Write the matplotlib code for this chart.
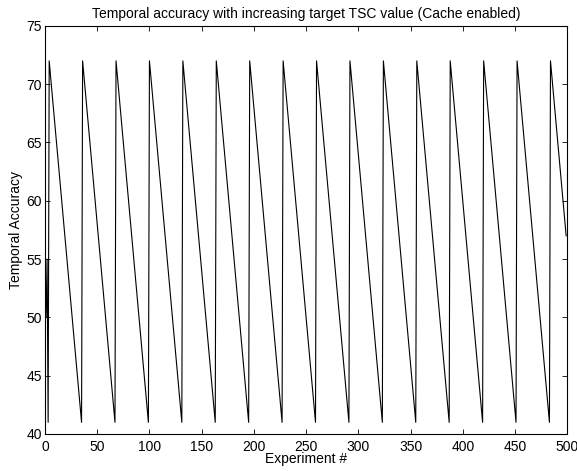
import matplotlib
matplotlib.use('Agg')
import matplotlib.pyplot as plt

# turning points of the sawtooth (straight lines between them)
exp_x = [1, 2, 3, 4, 35, 36, 67, 68, 99, 100, 131, 132, 163, 164, 195, 196,
         227, 228, 259, 260, 291, 292, 323, 324, 355, 356, 387, 388,
         419, 420, 451, 452, 483, 484, 499]
acc = [50, 55, 41, 72, 41, 72, 41, 72, 41, 72, 41, 72, 41, 72, 41, 72,
       41, 72, 41, 72, 41, 72, 41, 72, 41, 72, 41, 72,
       41, 72, 41, 72, 41, 72, 57]

xticks = [0, 50, 100, 150, 200, 250, 300, 350, 400, 450, 500]
yticks = [40, 45, 50, 55, 60, 65, 70, 75]

plt.rcParams['font.family'] = ['Liberation Sans', 'DejaVu Sans']

fig = plt.figure(figsize=(5.77, 4.71), dpi=100)
ax = fig.add_axes([0.078, 0.0786, 0.905, 0.8664])

ax.plot(exp_x, acc, c='k', linewidth=0.8)

ax.set_xlim(0, 500)
ax.set_ylim(40, 75)
ax.set_xticks(xticks)
ax.set_yticks(yticks)
ax.tick_params(direction='in', top=True, right=True, length=3.5, width=0.6,
               labelsize=10)
ax.tick_params(axis='x', pad=4)
ax.tick_params(axis='y', pad=2)
for s in ax.spines.values():
    s.set_linewidth(0.8)

ax.set_title('Temporal accuracy with increasing target TSC value (Cache enabled)',
             fontsize=10, pad=6)
ax.set_xlabel('Experiment #', fontsize=10, labelpad=-1)
ax.set_ylabel('Temporal Accuracy', fontsize=10, labelpad=3)

fig.savefig('out.png', dpi=100)
